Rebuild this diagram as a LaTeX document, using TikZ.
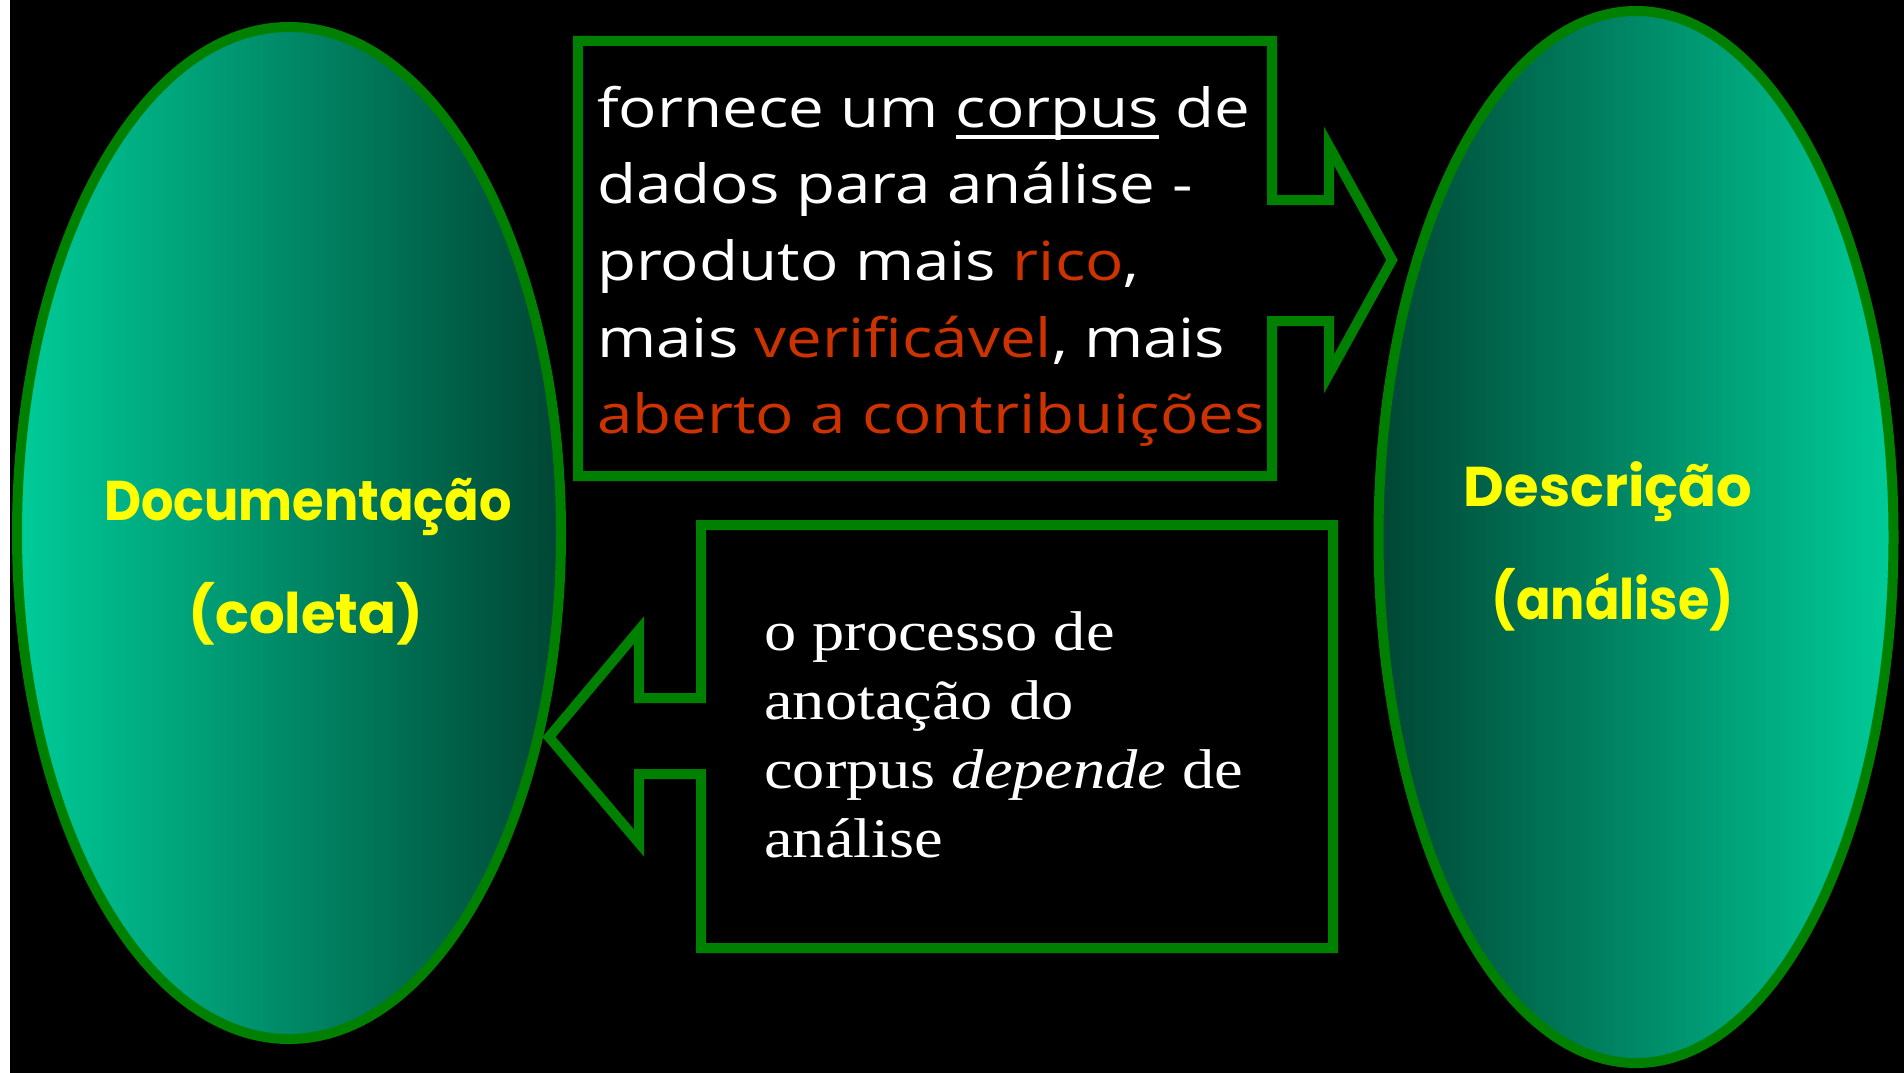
\documentclass[tikz,border=0pt]{standalone}
\usepackage{fontspec}
\usetikzlibrary{shapes.geometric}
\setmainfont{Liberation Serif}
\newfontfamily\comicfont[FakeStretch=1.18]{Open Sans}
\newfontfamily\labelfont{Poppins}
\newfontfamily\labelnarrow[FakeStretch=0.91]{Poppins}
\newfontfamily\timesfont[FakeStretch=1.15]{Liberation Serif}
\definecolor{boxgreen}{RGB}{0,128,0}
\definecolor{tealbright}{RGB}{0,204,153}
\definecolor{tealdark}{RGB}{0,70,52}
\definecolor{hotred}{RGB}{204,51,0}
\definecolor{labelyellow}{RGB}{255,255,0}
\tikzset{
  bubble/.style={ellipse, draw=boxgreen, line width=10pt, inner sep=0pt},
  arrowbox/.style={draw=boxgreen, fill=black, line width=10pt, line join=miter},
  comicline/.style={anchor=base west, inner sep=0pt, text=white, font=\comicfont\fontsize{54}{76}\selectfont},
  serifline/.style={anchor=base west, inner sep=0pt, text=white, font=\timesfont\fontsize{56}{69}\selectfont},
  bublabel/.style={anchor=base, inner sep=0pt, text=labelyellow, font=\labelfont\bfseries\fontsize{56}{70}\selectfont},
  bublabelnarrow/.style={bublabel, font=\labelnarrow\bfseries\fontsize{56}{70}\selectfont}
}
\begin{document}
\begin{tikzpicture}[x=1pt,y=-1pt]
\useasboundingbox (0,0) rectangle (1904,1073);
\fill[white] (0,0) rectangle (10,1073);
\fill[black] (10,0) rectangle (1904,1073);

% ellipses
\node[bubble, minimum width=544pt, minimum height=1012pt, left color=tealbright, right color=tealdark] (doc) at (289,533) {};
\node[bubble, minimum width=515pt, minimum height=1052pt, left color=tealdark, right color=tealbright] (desc) at (1636,537) {};

\node[bublabelnarrow] (docA) at (308,520) {Documentação};
\node[bublabel] (docB) at (306,633) {(coleta)};
\node[bublabel] (descA) at (1608,506) {Descrição};
\node[bublabelnarrow] (descB) at (1613,619) {(análise)};

% top arrow callout
\draw[arrowbox] (578,41) -- (1272,41) -- (1272,200) -- (1329,200) -- (1329,146)
  -- (1392,260) -- (1329,374) -- (1329,321) -- (1272,321) -- (1272,476) -- (578,476) -- cycle;
\node[comicline] (t1) at (597,127) {fornece um {\setbox0\hbox{corpus}\rlap{\rule[-12pt]{\wd0}{4pt}}\box0} de};
\node[comicline] (t2) at (597,203) {dados para análise -};
\node[comicline] (t3) at (597,280) {produto mais \textcolor{hotred}{rico},};
\node[comicline] (t4) at (597,357) {mais \textcolor{hotred}{verificável}, mais};
\node[comicline, text=hotred] (t5) at (597,433) {aberto a contribuições};

% bottom arrow callout
\draw[arrowbox] (701,525) -- (1333,525) -- (1333,948) -- (701,948) -- (701,774) -- (639,774)
  -- (639,843) -- (549,737) -- (639,630) -- (639,698) -- (701,698) -- cycle;
\node[serifline] (b1) at (764,650) {o processo de};
\node[serifline] (b2) at (764,719) {anotação do};
\node[serifline] (b3) at (764,788) {corpus \textit{depende} de};
\node[serifline] (b4) at (764,857) {análise};
\end{tikzpicture}
\end{document}
